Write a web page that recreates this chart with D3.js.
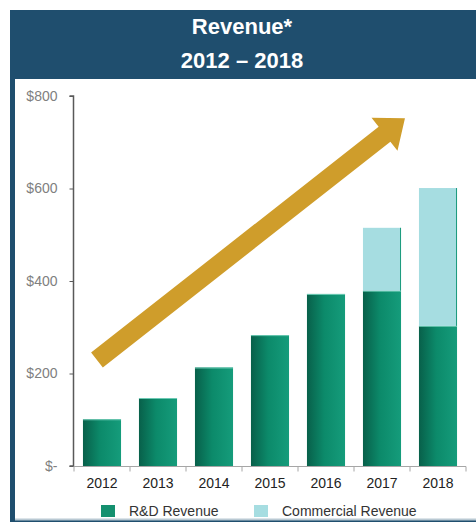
<!DOCTYPE html>
<meta charset="utf-8">
<head>
  <script src="https://d3js.org/d3.v7.min.js"></script>
  <style>
    html, body { margin: 0; padding: 0; background: #fff; }
    text { font-family: "Liberation Sans", Arial, sans-serif; }
  </style>
</head>
<body>
<svg id="chart" width="476" height="522"></svg>
<script>
  const years = ["2012", "2013", "2014", "2015", "2016", "2017", "2018"]
  const rdRevenue = [101, 147, 213, 283, 372, 379, 303]
  const commercialRevenue = [0, 0, 0, 0, 0, 136, 298]
  const yTicks = [0, 200, 400, 600, 800]
  const yTickLabels = ["$-", "$200", "$400", "$600", "$800"]
  const seriesNames = ["R&D Revenue", "Commercial Revenue"]

  const svg = d3.select("#chart")

  // frame + header
  svg.append("rect").attr("x", 10).attr("y", 10).attr("width", 470).attr("height", 520).attr("fill", "#1f4e6e")
  svg.append("rect").attr("x", 15).attr("y", 79).attr("width", 470).attr("height", 440).attr("fill", "#fff")
  svg.append("line").attr("x1", 15).attr("x2", 476).attr("y1", 519.5).attr("y2", 519.5).attr("stroke", "#b9c9d3").attr("stroke-width", 2)

  svg.append("text").attr("x", 242).attr("y", 34).attr("text-anchor", "middle")
    .attr("fill", "#fff").attr("font-size", 22).attr("font-weight", "bold").text("Revenue*")
  svg.append("text").attr("x", 242).attr("y", 68).attr("text-anchor", "middle")
    .attr("fill", "#fff").attr("font-size", 22).attr("font-weight", "bold").text("2012 – 2018")

  const x = d3.scaleBand().domain(years).range([74, 466]).paddingInner(0.32).paddingOuter(0.16)
  const y = d3.scaleLinear().domain([0, 800]).range([466, 96])

  const defs = svg.append("defs")
  const g1 = defs.append("linearGradient").attr("id", "rd").attr("x1", "0").attr("x2", "1").attr("y1", "0").attr("y2", "0")
  g1.append("stop").attr("offset", "0%").attr("stop-color", "#08604a")
  g1.append("stop").attr("offset", "45%").attr("stop-color", "#0c8a6a")
  g1.append("stop").attr("offset", "100%").attr("stop-color", "#159c7b")

  const data = years.map((yr, i) => ({ year: yr, rd: rdRevenue[i], com: commercialRevenue[i] }))

  // bars
  const bars = svg.append("g")
  bars.selectAll(".rd").data(data).enter().append("rect")
    .attr("x", d => x(d.year)).attr("width", x.bandwidth())
    .attr("y", d => y(d.rd)).attr("height", d => y(0) - y(d.rd))
    .attr("fill", "url(#rd)")
  bars.selectAll(".rdtop").data(data).enter().append("line")
    .attr("x1", d => x(d.year)).attr("x2", d => x(d.year) + x.bandwidth())
    .attr("y1", d => y(d.rd) + 0.5).attr("y2", d => y(d.rd) + 0.5)
    .attr("stroke", "#6cc9b3").attr("stroke-width", 1)
  bars.selectAll(".com").data(data.filter(d => d.com > 0)).enter().append("rect")
    .attr("x", d => x(d.year)).attr("width", x.bandwidth())
    .attr("y", d => y(d.rd + d.com)).attr("height", d => y(d.rd) - y(d.rd + d.com))
    .attr("fill", "#a6dde1")
  bars.selectAll(".comedge").data(data.filter(d => d.com > 0)).enter().append("line")
    .attr("x1", d => x(d.year) + x.bandwidth() - 0.5).attr("x2", d => x(d.year) + x.bandwidth() - 0.5)
    .attr("y1", d => y(d.rd + d.com)).attr("y2", d => y(d.rd))
    .attr("stroke", "#1a9a7c").attr("stroke-width", 1)

  // y axis
  const yAxis = svg.append("g").attr("transform", "translate(73.5,0)")
    .call(d3.axisLeft(y).tickValues(yTicks).tickSize(4).tickFormat((d, i) => yTickLabels[i]))
  yAxis.select(".domain").attr("stroke", "#595959").attr("stroke-width", 1.5).attr("d", "M-4," + y(800) + "H0V" + y(0) + "H-4")
  yAxis.selectAll(".tick line").attr("stroke", "#595959")
  yAxis.selectAll(".tick text").attr("fill", "#808080").attr("font-size", 14).attr("x", -16)
    .style("font-family", "'Liberation Sans', Arial, sans-serif")

  // x axis
  const xAxis = svg.append("g").attr("transform", "translate(0," + (y(0) + 0.5) + ")")
  xAxis.append("line").attr("x1", 74).attr("x2", 466).attr("stroke", "#a6a6a6")
  xAxis.selectAll(".tk").data(years.concat(["end"])).enter().append("line")
    .attr("x1", (d, i) => i < years.length ? x(d) - x.step() * x.paddingInner() / 2 : 466)
    .attr("x2", (d, i) => i < years.length ? x(d) - x.step() * x.paddingInner() / 2 : 466)
    .attr("y1", 0).attr("y2", 5).attr("stroke", "#a6a6a6")
  xAxis.selectAll(".lbl").data(years).enter().append("text")
    .attr("x", d => x(d) + x.bandwidth() / 2).attr("y", 21)
    .attr("text-anchor", "middle").attr("fill", "#222").attr("font-size", 14).text(d => d)

  // trend arrow
  const tail = [x("2012") + 14, y(229)]
  const tip = [x("2018") - 14, y(752)]
  const dx = tip[0] - tail[0], dy = tip[1] - tail[1]
  const len = Math.hypot(dx, dy), ux = dx / len, uy = dy / len, px = -uy, py = ux
  const hw = 9.5, headW = 21, headL = 26
  const base = [tip[0] - ux * headL, tip[1] - uy * headL]
  const pts = [
    [tail[0] + px * hw, tail[1] + py * hw],
    [base[0] + px * hw, base[1] + py * hw],
    [base[0] + px * headW, base[1] + py * headW],
    tip,
    [base[0] - px * headW, base[1] - py * headW],
    [base[0] - px * hw, base[1] - py * hw],
    [tail[0] - px * hw, tail[1] - py * hw]
  ]
  svg.append("path").attr("d", d3.line()(pts) + "Z").attr("fill", "#cf9d2b")

  // legend
  const legend = svg.append("g")
  const legX = [101, 254]
  const colors = ["#14906f", "#a6dde1"]
  seriesNames.forEach((n, i) => {
    legend.append("rect").attr("x", legX[i]).attr("y", 505).attr("width", 14).attr("height", 12).attr("fill", colors[i])
    legend.append("text").attr("x", legX[i] + 28).attr("y", 516).attr("font-size", 14).attr("fill", "#333").text(n)
  })
</script>
</body>
